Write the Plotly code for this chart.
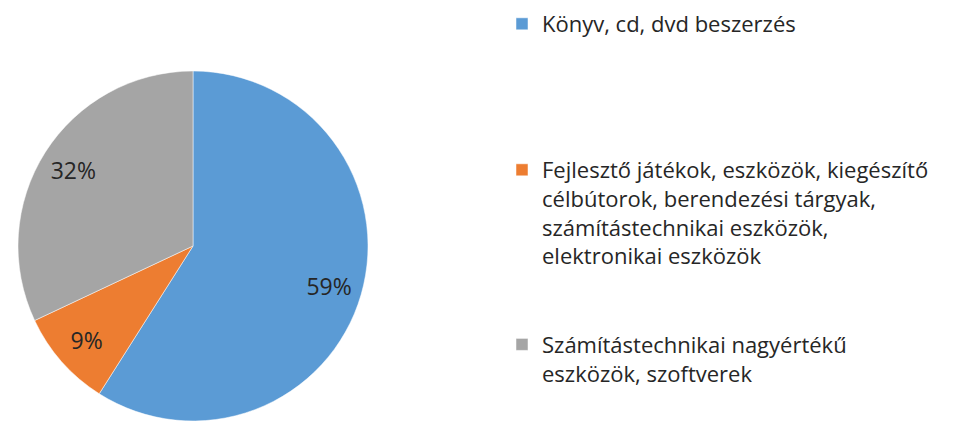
import plotly.graph_objects as go

categories = [
    "Könyv, cd, dvd beszerzés",
    "Fejlesztő játékok, eszközök, kiegészítő<br>célbútorok, berendezési tárgyak,<br>számítástechnikai eszközök,<br>elektronikai eszközök",
    "Számítástechnikai nagyértékű<br>eszközök, szoftverek",
]
values = [59, 9, 32]
colors = ["#5B9BD5", "#ED7D31", "#A5A5A5"]

# blank lines pad legend entries to mimic spacing in the original
pad = ["<br> <br> <br> <br> ", "<br> <br> ", ""]
legend_labels = [c + p for c, p in zip(categories, pad)]

W, H = 960, 421
cx, cy, r = 193, 246, 175
domain = dict(x=[(cx - r) / W, (cx + r) / W], y=[(H - cy - r) / H, (H - cy + r) / H])
FONT = "Open Sans"

fig = go.Figure()
# coloured pie (slices + legend)
fig.add_trace(
    go.Pie(
        labels=legend_labels,
        values=values,
        sort=False,
        direction="clockwise",
        rotation=0,
        marker=dict(colors=colors, line=dict(color="white", width=0.5)),
        textinfo="none",
        domain=domain,
        hoverinfo="label+percent",
    )
)
# transparent ring on top carries the percentage labels further out
fig.add_trace(
    go.Pie(
        labels=legend_labels,
        values=values,
        sort=False,
        direction="clockwise",
        rotation=0,
        hole=0.62,
        marker=dict(colors=["rgba(0,0,0,0)"] * 3, line=dict(width=0)),
        texttemplate="%{percent:.0%}",
        textposition="inside",
        insidetextorientation="horizontal",
        textfont=dict(family=FONT, size=23, color="#262626"),
        domain=domain,
        showlegend=False,
        hoverinfo="skip",
    )
)

fig.update_layout(
    width=W,
    height=H,
    margin=dict(l=0, r=0, t=0, b=0),
    paper_bgcolor="white",
    showlegend=True,
    legend=dict(
        x=502 / W,
        y=1 - 3 / H,
        xanchor="left",
        yanchor="top",
        valign="top",
        font=dict(family=FONT, size=22, color="#262626"),
        bgcolor="rgba(0,0,0,0)",
        itemclick=False,
    ),
)

fig.write_html("out.html")
